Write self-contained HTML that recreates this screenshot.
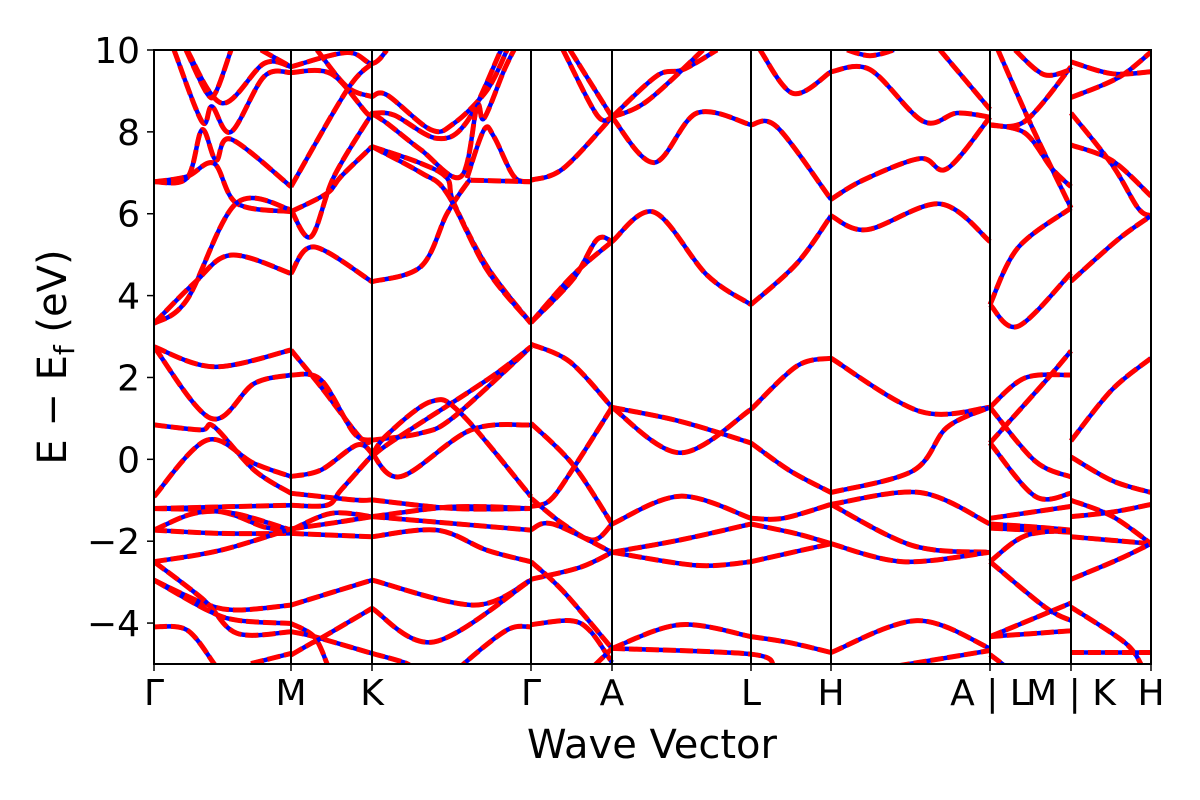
<!DOCTYPE html>
<html><head><meta charset="utf-8"><title>Band structure</title>
<style>
html,body{margin:0;padding:0;background:#fff;}
svg{display:block;font-family:"DejaVu Sans","Liberation Sans",sans-serif;}
</style></head>
<body>
<svg id="chart" width="1200" height="800" viewBox="0 0 1200 800" xmlns="http://www.w3.org/2000/svg">
<defs><clipPath id="plotclip"><rect x="154" y="50" width="997" height="614"/></clipPath></defs>
<rect x="0" y="0" width="1200" height="800" fill="#fff"/>
<g id="bands" clip-path="url(#plotclip)"></g>
<g id="kvlines"></g>
<rect x="154" y="50" width="997" height="614" fill="none" stroke="#000" stroke-width="2"/>
<g id="yaxis"></g>
<g id="xaxis"></g>
<text x="652" y="758" font-size="40" text-anchor="middle">Wave Vector</text>
<text transform="translate(66,357) rotate(-90)" font-size="40" text-anchor="middle">E − E<tspan font-size="28" dy="8">f</tspan><tspan dy="-8"> (eV)</tspan></text>
</svg>
<script>
const kTicks = [0, 1.37, 2.18, 3.77, 4.58, 5.97, 6.77, 8.36, 9.17, 9.97];
const kLabels = ["Γ", "M", "K", "Γ", "A", "L", "H", "A | L", "M | K", "H"];
const eTicks = [10, 8, 6, 4, 2, 0, -2, -4];
const eTickLabels = ["10", "8", "6", "4", "2", "0", "−2", "−4"];

const bandsGM = [
[[0,6.78],[0.33,6.87],[0.48,8.05],[0.62,7.31],[0.77,7.82],[1.37,6.66]],
[[0,6.78],[0.33,6.91],[0.6,7.23],[0.83,6.25],[1.37,6.05]],
[[0,3.32],[0.33,3.9],[0.82,6.25],[1.37,6.1]],
[[0,3.32],[0.4,4.3],[0.77,4.99],[1.37,4.54]],
[[0.2,10],[0.48,8.25],[0.58,8.62],[0.77,8.0],[1.1,9.35],[1.37,9.45]],
[[0.32,10],[0.53,8.94],[0.62,8.98],[0.77,10]],
[[0.33,10],[0.68,8.7],[1.1,9.67],[1.37,9.59]],
[[1.07,10],[1.37,9.59]],
[[0,2.75],[0.6,2.26],[1.37,2.67]],
[[0,2.75],[0.57,1.0],[1.0,1.85],[1.37,2.06]],
[[0,0.84],[0.47,0.72],[0.6,0.8],[1.0,-0.26],[1.37,-0.83]],
[[0,-0.91],[0.53,0.47],[1.0,-0.1],[1.37,-0.42]],
[[0,-1.2],[0.7,-1.16],[1.37,-1.12]],
[[0,-1.2],[0.67,-1.28],[1.1,-1.65],[1.37,-1.73]],
[[0,-1.73],[0.4,-1.32],[0.8,-1.32],[1.37,-1.73]],
[[0,-1.73],[0.67,-1.81],[1.37,-1.81]],
[[0,-2.5],[0.67,-2.22],[1.37,-1.7]],
[[0,-2.95],[0.5,-3.52],[0.83,-3.68],[1.37,-3.56]],
[[0,-2.5],[0.5,-3.44],[0.83,-4.25],[1.37,-4.21]],
[[0,-2.95],[0.53,-3.68],[0.83,-3.93],[1.37,-4.01]],
[[0,-4.09],[0.33,-4.17],[0.6,-4.99],[0.65,-5.2]],
[[0.97,-4.99],[1.37,-4.74]]
];
const bandsMK = [
[[1.37,9.59],[1.93,9.94],[2.18,9.67],[2.33,10]],
[[1.63,10],[1.93,9.1],[2.18,8.86]],
[[1.37,9.45],[1.77,9.42],[2.13,8.45],[2.18,8.45]],
[[1.37,6.66],[1.93,9.02],[2.18,9.67]],
[[1.37,6.1],[1.57,5.44],[1.8,6.91],[2.18,8.45]],
[[1.37,6.05],[1.73,6.5],[1.87,6.91],[2.18,7.64]],
[[1.37,4.54],[1.6,5.19],[2.18,4.34]],
[[1.37,2.67],[1.67,1.77],[2.07,0.51],[2.18,0.47]],
[[1.37,2.06],[1.67,1.94],[2.0,0.64],[2.18,0.47]],
[[1.37,-0.42],[1.67,-0.26],[2.03,0.35],[2.18,0.15]],
[[1.37,-0.83],[2.0,-0.99],[2.18,-0.99]],
[[1.37,-1.12],[1.73,-1.12],[1.87,-0.75],[2.18,0.1]],
[[1.37,-1.73],[1.77,-1.32],[2.18,-1.4]],
[[1.37,-1.81],[2.18,-1.89]],
[[1.37,-1.7],[1.8,-1.55],[2.18,-1.4]],
[[1.37,-3.56],[2.18,-2.95]],
[[1.37,-4.01],[1.6,-4.33],[1.73,-4.99],[1.75,-5.2]],
[[1.37,-4.21],[1.6,-4.33],[2.18,-4.74]],
[[1.37,-4.78],[1.57,-4.5],[1.67,-4.37],[2.18,-3.64]]
];
const bandsKG = [
[[2.18,8.86],[2.33,8.9],[2.77,8.05],[3.0,8.21],[3.33,9.02],[3.53,10]],
[[2.18,8.45],[2.4,8.41],[2.83,7.84],[3.13,8.25],[3.47,10]],
[[2.18,8.45],[2.33,8.21],[2.67,7.56],[3.07,6.91],[3.23,8.62],[3.3,8.33],[3.5,9.5],[3.6,10]],
[[3.13,6.87],[3.3,8.05],[3.4,7.88],[3.6,6.91],[3.77,6.78]],
[[3.17,6.82],[3.77,6.78]],
[[2.18,7.64],[2.67,7.23],[2.93,6.87],[3.0,6.25],[3.33,4.71],[3.77,3.32]],
[[2.18,4.34],[2.67,4.71],[2.93,6.0],[3.13,6.74],[3.17,6.82]],
[[2.18,7.64],[2.67,7.0],[2.93,6.5],[3.33,4.63],[3.77,3.32]],
[[2.18,0.47],[2.67,0.64],[3.0,1.04],[3.77,2.75]],
[[2.18,0.07],[2.4,0.47],[3.33,1.94],[3.77,2.75]],
[[2.18,0.15],[2.47,-0.42],[3.17,0.72],[3.77,0.84]],
[[2.18,0.1],[2.33,0.6],[2.77,1.41],[3.07,1.12],[3.77,-0.91]],
[[2.18,-0.99],[3.0,-1.2],[3.77,-1.2]],
[[2.18,-1.4],[3.0,-1.16],[3.77,-1.2]],
[[2.18,-1.4],[3.77,-1.73]],
[[2.18,-1.89],[2.83,-1.73],[3.33,-2.22],[3.77,-2.5]],
[[2.18,-2.95],[3.2,-3.56],[3.77,-2.95]],
[[2.18,-3.64],[2.8,-4.46],[3.77,-2.95]],
[[2.18,-4.74],[2.53,-4.99],[2.6,-5.2]],
[[3.05,-5.2],[3.1,-4.99],[3.53,-4.17],[3.77,-4.09]]
];
const bandsGA = [
[[3.77,6.82],[4.09,7.1],[4.58,8.36]],
[[4.09,10],[4.43,8.41],[4.58,8.36]],
[[4.16,10],[4.58,8.36]],
[[3.77,3.34],[4.19,4.4],[4.43,5.37],[4.58,5.32]],
[[3.77,3.34],[4.19,4.5],[4.58,5.32]],
[[3.77,2.81],[4.16,2.38],[4.58,1.27]],
[[3.77,0.88],[4.19,-0.13],[4.58,-1.58]],
[[3.77,-1.15],[3.96,-1.0],[4.19,-0.23],[4.58,1.27]],
[[3.77,-0.95],[4.09,-1.58],[4.39,-1.97],[4.58,-1.58]],
[[3.77,-1.72],[3.99,-1.58],[4.58,-2.27]],
[[3.77,-2.93],[4.26,-2.64],[4.58,-2.27]],
[[3.77,-2.5],[4.09,-3.22],[4.58,-4.62]],
[[3.77,-4.04],[4.16,-3.94],[4.36,-4.19],[4.58,-4.96]],
[[4.4,-5.05],[4.58,-4.62]]
];
const bandsAL = [
[[4.58,8.36],[5.0,7.25],[5.43,8.46],[5.97,8.17]],
[[4.58,8.36],[5.03,9.37],[5.29,9.52],[5.63,10]],
[[4.58,8.36],[4.93,8.75],[5.49,10]],
[[4.58,5.32],[5.0,6.04],[5.53,4.5],[5.97,3.78]],
[[4.58,1.27],[5.26,0.16],[5.97,1.22]],
[[4.58,1.27],[5.26,0.93],[5.97,0.4]],
[[4.58,-1.58],[5.26,-0.9],[5.97,-1.44]],
[[4.58,-2.27],[5.26,-1.97],[5.97,-1.58]],
[[4.58,-2.27],[5.43,-2.59],[5.97,-2.5]],
[[4.58,-4.62],[5.26,-4.04],[5.97,-4.33]],
[[4.58,-4.62],[5.97,-4.76],[6.2,-5.05]]
];
const bandsLH = [
[[5.97,8.17],[6.23,8.12],[6.77,6.35]],
[[6.06,10],[6.39,8.94],[6.77,9.47]],
[[5.97,3.78],[6.43,4.79],[6.77,5.95]],
[[5.97,1.22],[6.43,2.28],[6.77,2.47]],
[[5.97,0.4],[6.36,-0.28],[6.77,-0.81]],
[[5.97,-1.44],[6.29,-1.44],[6.77,-1.1]],
[[5.97,-1.58],[6.43,-1.82],[6.77,-2.06]],
[[5.97,-2.5],[6.77,-2.06]],
[[5.97,-4.33],[6.36,-4.48],[6.77,-4.72]]
];
const bandsHA = [
[[6.77,9.47],[7.16,9.52],[7.69,8.26],[8.03,8.46],[8.36,8.36]],
[[6.93,10],[7.16,9.86],[7.4,10]],
[[7.86,10],[8.36,8.55]],
[[6.77,6.35],[7.09,6.82],[7.66,7.35],[7.93,7.1],[8.36,8.36]],
[[6.77,5.95],[7.13,5.61],[7.86,6.24],[8.36,5.32]],
[[6.77,2.47],[7.66,1.17],[8.36,1.27]],
[[6.77,-0.81],[7.59,-0.28],[7.93,0.78],[8.36,1.27]],
[[6.77,-1.1],[7.66,-0.81],[8.36,-1.58]],
[[6.77,-1.1],[7.59,-2.11],[8.36,-2.27]],
[[6.77,-2.06],[7.49,-2.5],[8.36,-2.27]],
[[6.77,-4.72],[7.63,-3.94],[8.36,-4.62]],
[[7.43,-5.05],[8.36,-4.67]]
];
const bandsLM = [
[[8.36,8.17],[8.71,8.26],[9.17,9.59]],
[[8.44,10],[8.78,8.12],[9.17,6.14]],
[[8.61,10],[8.9,9.4],[9.17,9.52]],
[[8.36,8.17],[8.71,7.97],[8.98,7.1],[9.17,6.66]],
[[8.36,3.78],[8.64,5.17],[9.17,6.14]],
[[8.36,3.78],[8.64,3.25],[9.17,4.55]],
[[8.36,1.27],[8.71,1.99],[9.17,2.06]],
[[8.36,0.4],[8.91,1.9],[9.17,2.65]],
[[8.36,1.27],[8.81,-0.04],[9.17,-0.43]],
[[8.36,0.4],[8.81,-0.9],[9.17,-0.83]],
[[8.36,-1.44],[9.17,-1.15]],
[[8.36,-1.58],[8.8,-1.65],[9.17,-1.73]],
[[8.36,-1.68],[9.17,-1.78]],
[[8.36,-2.5],[8.71,-1.87],[9.17,-1.73]],
[[8.36,-2.5],[8.91,-3.61],[9.17,-3.94]],
[[8.36,-4.33],[9.17,-3.51]],
[[8.36,-4.33],[9.17,-4.19]],
[[8.36,-4.77],[8.51,-5.05]]
];
const bandsKH = [
[[9.17,9.71],[9.58,9.42],[9.97,9.47]],
[[9.17,8.84],[9.64,9.32],[9.97,9.95]],
[[9.17,8.46],[9.58,7.2],[9.84,6.14],[9.97,5.95]],
[[9.17,7.68],[9.58,7.3],[9.97,6.43]],
[[9.17,4.35],[9.64,5.37],[9.97,5.95]],
[[9.17,0.45],[9.58,1.7],[9.97,2.47]],
[[9.17,0.06],[9.58,-0.52],[9.97,-0.81]],
[[9.17,-1.0],[9.58,-1.39],[9.97,-2.06]],
[[9.17,-1.4],[9.58,-1.29],[9.97,-1.1]],
[[9.17,-1.89],[9.97,-2.06]],
[[9.17,-2.93],[9.64,-2.45],[9.97,-2.06]],
[[9.17,-3.61],[9.71,-4.48],[9.88,-5.05]],
[[9.17,-4.72],[9.97,-4.72]]
];

const X0 = 154, X1 = 1151, Y0 = 50, Y1 = 664;
const kMin = 0, kMax = 9.97, eMin = -5, eMax = 10;
function xs(k){ return X0 + (k - kMin) / (kMax - kMin) * (X1 - X0); }
function ys(e){ return Y1 - (e - eMin) / (eMax - eMin) * (Y1 - Y0); }
const NS = "http://www.w3.org/2000/svg";

function smoothPath(pts){
  const p = pts.map(d => [xs(d[0]), ys(d[1])]);
  let s = "M" + p[0][0].toFixed(1) + "," + p[0][1].toFixed(1);
  for (let i = 0; i < p.length - 1; i++) {
    const p0 = p[i - 1] || p[i], p1 = p[i], p2 = p[i + 1], p3 = p[i + 2] || p[i + 1];
    const c1x = p1[0] + (p2[0] - p0[0]) / 6, c1y = p1[1] + (p2[1] - p0[1]) / 6;
    const c2x = p2[0] - (p3[0] - p1[0]) / 6, c2y = p2[1] - (p3[1] - p1[1]) / 6;
    s += " C" + c1x.toFixed(1) + "," + c1y.toFixed(1) + " " + c2x.toFixed(1) + "," + c2y.toFixed(1) + " " + p2[0].toFixed(1) + "," + p2[1].toFixed(1);
  }
  return s;
}

const gBands = document.getElementById("bands");
const allSegments = [bandsGM, bandsMK, bandsKG, bandsGA, bandsAL, bandsLH, bandsHA, bandsLM, bandsKH];
allSegments.forEach(function(seg){
  seg.forEach(function(band){
    const d = smoothPath(band);
    const under = document.createElementNS(NS, "path");
    under.setAttribute("d", d);
    under.setAttribute("fill", "none");
    under.setAttribute("stroke", "#0000ff");
    under.setAttribute("stroke-width", "4.5");
    
    
    gBands.appendChild(under);
    const over = document.createElementNS(NS, "path");
    over.setAttribute("d", d);
    over.setAttribute("fill", "none");
    over.setAttribute("stroke", "#ff0000");
    over.setAttribute("stroke-width", "5");
    over.setAttribute("stroke-dasharray", "13 4");
    
    
    gBands.appendChild(over);
  });
});

const gV = document.getElementById("kvlines");
kTicks.forEach(function(k){
  const l = document.createElementNS(NS, "line");
  l.setAttribute("x1", xs(k)); l.setAttribute("x2", xs(k));
  l.setAttribute("y1", Y0); l.setAttribute("y2", Y1);
  l.setAttribute("stroke", "#000"); l.setAttribute("stroke-width", "2");
  
  
  gV.appendChild(l);
});

const gY = document.getElementById("yaxis");
eTicks.forEach(function(e, i){
  const t = document.createElementNS(NS, "line");
  t.setAttribute("x1", X0 - 7); t.setAttribute("x2", X0);
  t.setAttribute("y1", ys(e)); t.setAttribute("y2", ys(e));
  t.setAttribute("stroke", "#000"); t.setAttribute("stroke-width", "1.5");
  
  
  gY.appendChild(t);
  const tx = document.createElementNS(NS, "text");
  tx.setAttribute("x", X0 - 14); tx.setAttribute("y", ys(e) + 13);
  tx.setAttribute("font-size", "36"); tx.setAttribute("text-anchor", "end");
  tx.textContent = eTickLabels[i];
  
  
  gY.appendChild(tx);
});

const gX = document.getElementById("xaxis");
kTicks.forEach(function(k, i){
  const t = document.createElementNS(NS, "line");
  t.setAttribute("x1", xs(k)); t.setAttribute("x2", xs(k));
  t.setAttribute("y1", Y1); t.setAttribute("y2", Y1 + 7);
  t.setAttribute("stroke", "#000"); t.setAttribute("stroke-width", "1.5");
  
  
  gX.appendChild(t);
  const tx = document.createElementNS(NS, "text");
  tx.setAttribute("x", xs(k)); tx.setAttribute("y", 705);
  tx.setAttribute("font-size", "36"); tx.setAttribute("text-anchor", "middle");
  tx.textContent = kLabels[i];
  
  
  gX.appendChild(tx);
});
</script>
</body></html>
